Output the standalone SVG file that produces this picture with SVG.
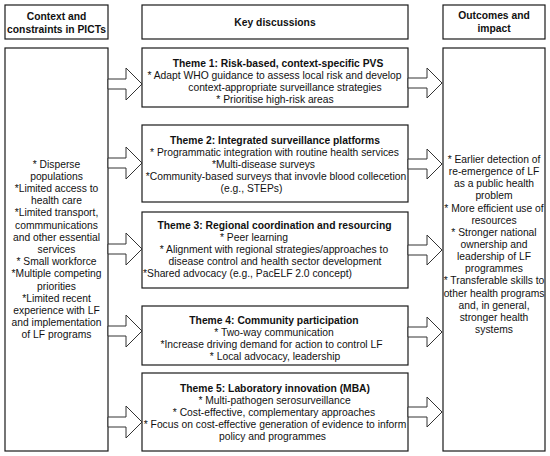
<svg xmlns="http://www.w3.org/2000/svg" width="550" height="456" viewBox="0 0 550 456">
<style>
.box{fill:#fff;stroke:#1a1a1a;stroke-width:1.2}
.arr{fill:#fff;stroke:#333;stroke-width:1}
text{font-family:"Liberation Sans",Arial,sans-serif;font-size:10.3px;fill:#111;text-anchor:middle}
.b{font-weight:bold}
</style>
<rect width="550" height="456" fill="#fff"/>
<g id="header-context">
<rect class="box" x="5" y="5" width="103" height="34"/>
<text class="b" x="56.5" y="19.6">Context and</text>
<text class="b" x="56.5" y="32.6">constraints in PICTs</text>
</g>
<g id="header-key">
<rect class="box" x="142" y="5" width="266" height="34"/>
<text class="b" x="275" y="26.1">Key discussions</text>
</g>
<g id="header-outcomes">
<rect class="box" x="443" y="5" width="102" height="34"/>
<text class="b" x="494" y="18.6">Outcomes and</text>
<text class="b" x="494" y="31.9">impact</text>
</g>
<g id="context">
<rect class="box" x="5" y="48" width="103" height="403"/>
<text x="56.5" y="167.6">* Disperse</text>
<text x="56.5" y="179.8">populations</text>
<text x="56.5" y="192">*Limited access to</text>
<text x="56.5" y="204.2">health care</text>
<text x="56.5" y="216.4">*Limited transport,</text>
<text x="56.5" y="228.6">commmunications</text>
<text x="56.5" y="240.8">and other essential</text>
<text x="56.5" y="253">services</text>
<text x="56.5" y="265.2">* Small workforce</text>
<text x="56.5" y="277.4">*Multiple competing</text>
<text x="56.5" y="289.6">priorities</text>
<text x="56.5" y="301.8">*Limited recent</text>
<text x="56.5" y="314">experience with LF</text>
<text x="56.5" y="326.2">and implementation</text>
<text x="56.5" y="338.4">of LF programs</text>
</g>
<g id="theme1">
<rect class="box" x="142" y="48" width="266" height="59"/>
<text class="b" x="278" y="66.6">Theme 1: Risk-based, context-specific PVS</text>
<text x="274.5" y="78.6">* Adapt WHO guidance to assess local risk and develop</text>
<text x="285" y="90.6">context-appropriate surveillance strategies</text>
<text x="275" y="102.6">* Prioritise high-risk areas</text>
</g>
<g id="theme2">
<rect class="box" x="142" y="125" width="266" height="77"/>
<text class="b" x="275" y="143.6">Theme 2: Integrated surveillance platforms</text>
<text x="274.5" y="155.6">* Programmatic integration with routine health services</text>
<text x="263.5" y="167.6">*Multi-disease surveys</text>
<text x="276" y="179.6">*Community-based surveys that invovle blood collecetion</text>
<text x="251.5" y="191.6">(e.g., STEPs)</text>
</g>
<g id="theme3">
<rect class="box" x="142" y="212" width="266" height="76"/>
<text class="b" x="274.5" y="228.6">Theme 3: Regional coordination and resourcing</text>
<text x="254" y="240.8">* Peer learning</text>
<text x="274" y="253">* Alignment with regional strategies/approaches to</text>
<text x="275" y="265.2">disease control and health sector development</text>
<text x="247.5" y="277.4">*Shared advocacy (e.g., PacELF 2.0 concept)</text>
</g>
<g id="theme4">
<rect class="box" x="142" y="306" width="266" height="59"/>
<text class="b" x="274" y="323.6">Theme 4: Community participation</text>
<text x="274" y="335.6">* Two-way communication</text>
<text x="271.5" y="347.6">*Increase driving demand for action to control LF</text>
<text x="275" y="359.6">* Local advocacy, leadership</text>
</g>
<g id="theme5">
<rect class="box" x="142" y="373" width="266" height="78"/>
<text class="b" x="275" y="391.6">Theme 5: Laboratory innovation (MBA)</text>
<text x="274.5" y="403.6">* Multi-pathogen serosurveillance</text>
<text x="274" y="415.6">* Cost-effective, complementary approaches</text>
<text x="275" y="427.6">* Focus on cost-effective generation of evidence to inform</text>
<text x="272.5" y="439.6">policy and programmes</text>
</g>
<g id="outcomes">
<rect class="box" x="443" y="48" width="102" height="403"/>
<text x="494" y="162.9">* Earlier detection of</text>
<text x="494" y="175">re-emergence of LF</text>
<text x="494" y="187.2">as a public health</text>
<text x="494" y="199.3">problem</text>
<text x="494" y="211.5">* More efficient use of</text>
<text x="494" y="223.6">resources</text>
<text x="494" y="235.8">* Stronger national</text>
<text x="494" y="247.9">ownership and</text>
<text x="494" y="260.1">leadership of LF</text>
<text x="494" y="272.2">programmes</text>
<text x="494" y="284.4">* Transferable skills to</text>
<text x="494" y="296.5">other health programs</text>
<text x="494" y="308.7">and, in general,</text>
<text x="494" y="320.8">stronger health</text>
<text x="494" y="333">systems</text>
</g>
<g id="connectors">
<path class="arr" d="M108,79H126V68L142,84L126,100V89H108Z"/>
<path class="arr" d="M108,158H126V147L142,163L126,179V168H108Z"/>
<path class="arr" d="M108,244H126V233L142,249L126,265V254H108Z"/>
<path class="arr" d="M108,326H126V315L142,331L126,347V336H108Z"/>
<path class="arr" d="M108,417H126V406L142,422L126,438V427H108Z"/>
<path class="arr" d="M408,78H427V68L442,83L427,98V88H408Z"/>
<path class="arr" d="M408,159H427V149L442,164L427,179V169H408Z"/>
<path class="arr" d="M408,245H427V235L442,250L427,265V255H408Z"/>
<path class="arr" d="M408,327H427V317L442,332L427,347V337H408Z"/>
<path class="arr" d="M408,407H427V397L442,412L427,427V417H408Z"/>
</g>
</svg>
